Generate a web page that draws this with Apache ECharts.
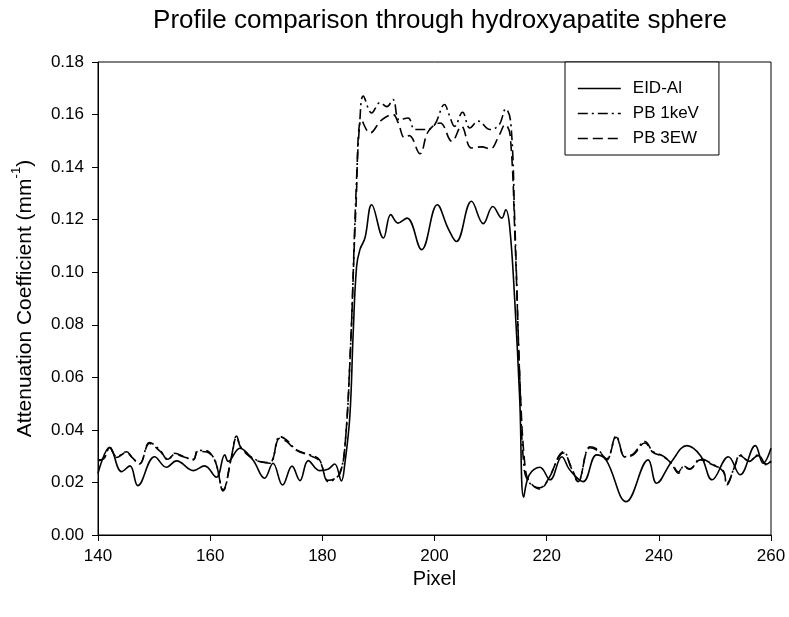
<!DOCTYPE html>
<html>
<head>
<meta charset="utf-8">
<script src="https://cdn.jsdelivr.net/npm/echarts@6/dist/echarts.min.js"></script>
<style>html,body{margin:0;padding:0;background:#fff}#c{width:789px;height:617px}</style>
</head>
<body>
<div id="c"></div>
<script>
// ---- data ----
const xTicks = [140, 160, 180, 200, 220, 240, 260];
const yTicks = [0, 0.02, 0.04, 0.06, 0.08, 0.10, 0.12, 0.14, 0.16, 0.18];

const eidX = [140,142.1,144.2,145.7,147.1,150.1,152.2,154,157,159,161.1,162.6,163.2,165.3,167.6,169.7,171.2,172.9,174.6,176,177.5,179.5,181,182.2,183.4,184,184.9,185.5,186.1,186.7,187.6,188.8,190.9,192.2,193.5,195.1,197.7,200.5,202.4,203.9,206.6,208.7,210.4,212,212.7,213.4,214.3,215.2,215.9,216.9,218.8,220.6,222.7,224.1,226.5,228.9,230.6,234.2,238.1,239.6,242.3,245,247.5,249.5,252.4,254.5,257.2,258.6,260];
const eidY = [0.0235,0.0334,0.0241,0.0263,0.0188,0.0298,0.0258,0.0282,0.0245,0.0263,0.022,0.0305,0.028,0.033,0.0286,0.0216,0.0273,0.019,0.0262,0.0207,0.0283,0.0245,0.025,0.027,0.0206,0.027,0.045,0.0768,0.102,0.1086,0.113,0.1257,0.113,0.1219,0.1187,0.1206,0.1086,0.1257,0.1168,0.1117,0.127,0.1185,0.125,0.1206,0.1238,0.1174,0.0895,0.0514,0.0144,0.0229,0.0258,0.021,0.0298,0.0248,0.0203,0.0305,0.0286,0.0127,0.0286,0.0197,0.028,0.034,0.030,0.021,0.0298,0.0229,0.034,0.0273,0.033];

const pb1X = [140,141,142.1,143.3,145.1,146,147.4,149.2,151,152.5,153.7,155.2,157,157.8,159.4,160.5,161.1,162.3,163.8,164.7,165.6,168.2,170.6,172.4,173.6,175.4,177.8,179.5,181,182,183.1,184,185,186,186.7,187.3,188.8,190.3,191.5,192.6,193.7,195.3,196.5,198.6,200,201.8,202.6,203.6,205,206.3,207.8,209.9,211.5,212.7,213.6,214.3,215.2,216,217,218.8,220.5,222.1,223,224.4,225.6,227.7,229.2,230.7,232.4,234,235.5,237.5,239,240.8,242.3,243.5,244.4,245.5,247.4,249.5,251.5,252.1,253.6,254.5,256.1,257.7,259.2,260];
const pb1Y = [0.0286,0.029,0.0334,0.0298,0.0317,0.0298,0.027,0.0352,0.0324,0.0286,0.0311,0.03,0.0286,0.0322,0.032,0.0298,0.027,0.0168,0.0298,0.0377,0.033,0.0286,0.0273,0.0375,0.0362,0.0324,0.0305,0.0286,0.0203,0.021,0.0235,0.033,0.07,0.13,0.158,0.167,0.1606,0.1645,0.163,0.1657,0.158,0.1587,0.1543,0.1543,0.156,0.1638,0.16,0.1555,0.1609,0.1549,0.1575,0.1543,0.156,0.1622,0.157,0.12,0.06,0.025,0.0197,0.018,0.022,0.0298,0.0317,0.0254,0.0203,0.0336,0.0324,0.0286,0.0377,0.0298,0.031,0.0356,0.0317,0.030,0.027,0.0235,0.026,0.025,0.029,0.027,0.0241,0.019,0.0267,0.0305,0.028,0.0305,0.0267,0.028];

const pb3X = [140,141,142.1,143.3,145.1,146,147.4,149.2,151,152.5,153.7,155.2,157,157.8,159.4,160.5,161.1,162.3,163.8,164.7,165.6,168.2,170.6,172.4,173.6,175.4,177.8,179.5,181,182,183.1,184,185,186,187,188.5,190.6,192.6,193.5,194.7,195.5,197.4,198.9,201,203.1,204.8,206.6,208.4,209.9,211.5,212.6,213.5,214.4,215.3,216.2,217,218.8,220.5,222.1,223,224.4,225.6,227.7,229.2,230.7,232.4,234,235.5,237.5,239,240.8,242.3,243.5,244.4,245.5,247.4,249.5,251.5,252.1,253.6,254.5,256.1,257.7,259.2,260];
const pb3Y = [0.0282,0.0292,0.0332,0.0295,0.0314,0.0296,0.0272,0.0348,0.032,0.0288,0.0308,0.0298,0.0288,0.0318,0.0316,0.0296,0.0268,0.0172,0.0295,0.0372,0.0328,0.0284,0.0276,0.0368,0.0356,0.0322,0.0302,0.0282,0.0208,0.0212,0.0232,0.033,0.07,0.125,0.158,0.153,0.158,0.16,0.157,0.1511,0.152,0.1451,0.1536,0.1568,0.1498,0.1555,0.1473,0.1477,0.1469,0.152,0.1562,0.152,0.11,0.055,0.025,0.0202,0.0175,0.0222,0.0294,0.0312,0.0258,0.0206,0.0332,0.032,0.029,0.0372,0.0296,0.0306,0.035,0.0314,0.0298,0.0272,0.024,0.0262,0.0252,0.0286,0.0268,0.0244,0.0195,0.0264,0.0302,0.0282,0.0302,0.027,0.0282];

const seriesNames = ['EID-Al', 'PB 1keV', 'PB 3EW'];

function pairs(xs, ys) { return xs.map((x, i) => [x, ys[i]]); }

const FONT = 'Liberation Sans';
const chart = echarts.init(document.getElementById('c'), null, {renderer: 'canvas'});
chart.setOption({
  animation: false,
  backgroundColor: '#fff',
  textStyle: {fontFamily: FONT, color: '#000'},
  title: {
    text: 'Profile comparison through hydroxyapatite sphere',
    left: 435, top: 3, textAlign: 'center',
    textStyle: {fontFamily: FONT, fontSize: 26, fontWeight: 'normal', color: '#000'}
  },
  grid: {left: 98, right: 18, top: 62, bottom: 82, show: true, borderColor: '#000', borderWidth: 1, backgroundColor: 'transparent'},
  legend: {
    data: seriesNames,
    orient: 'vertical',
    left: 565, top: 62,
    padding: [18, 20, 8, 12],
    itemGap: 8,
    itemWidth: 43, itemHeight: 16,
    borderColor: '#000', borderWidth: 1,
    backgroundColor: '#fff',
    itemStyle: {opacity: 0},
    lineStyle: {width: 1.6},
    textStyle: {fontFamily: FONT, fontSize: 17, color: '#000', padding: [0, 0, 0, 7]}
  },
  xAxis: {
    type: 'value', min: 140, max: 260, interval: 20,
    name: 'Pixel', nameLocation: 'middle', nameGap: 30,
    nameTextStyle: {fontFamily: FONT, fontSize: 20, color: '#000', verticalAlign: 'top'},
    axisLine: {show: true, lineStyle: {color: '#000', width: 1}},
    axisTick: {show: true, inside: false, length: 6, lineStyle: {color: '#000'}},
    axisLabel: {fontFamily: FONT, fontSize: 17, color: '#000', margin: 13,
      customValues: xTicks},
    splitLine: {show: false}
  },
  yAxis: {
    type: 'value', min: 0, max: 0.18, interval: 0.02,
    name: '{a|Attenuation Coefficient (mm}{s|-1}{a|)}', nameLocation: 'middle', nameGap: 62, nameRotate: 90,
    nameTextStyle: {fontFamily: FONT, fontSize: 21, color: '#000',
      rich: {a: {fontFamily: FONT, fontSize: 21, color: '#000', lineHeight: 26, verticalAlign: 'bottom'},
             s: {fontFamily: FONT, fontSize: 13, color: '#000', lineHeight: 26, verticalAlign: 'top'}}},
    axisLine: {show: true, lineStyle: {color: '#000', width: 1}},
    axisTick: {show: true, inside: false, length: 6, lineStyle: {color: '#000'}},
    axisLabel: {fontFamily: FONT, fontSize: 17, color: '#000', margin: 14,
      formatter: v => v.toFixed(2)},
    splitLine: {show: false}
  },
  series: [
    {name: seriesNames[0], type: 'line', data: pairs(eidX, eidY), smooth: 0.4, symbol: 'none',
     lineStyle: {color: '#000', width: 1.6, type: 'solid'}, itemStyle: {color: '#000'}},
    {name: seriesNames[1], type: 'line', data: pairs(pb1X, pb1Y), smooth: 0.4, symbol: 'none',
     lineStyle: {color: '#000', width: 1.6, type: [10, 4, 2, 4]}, itemStyle: {color: '#000'}},
    {name: seriesNames[2], type: 'line', data: pairs(pb3X, pb3Y), smooth: 0.4, symbol: 'none',
     lineStyle: {color: '#000', width: 1.6, type: [10, 5]}, itemStyle: {color: '#000'}}
  ]
});
</script>
</body>
</html>
